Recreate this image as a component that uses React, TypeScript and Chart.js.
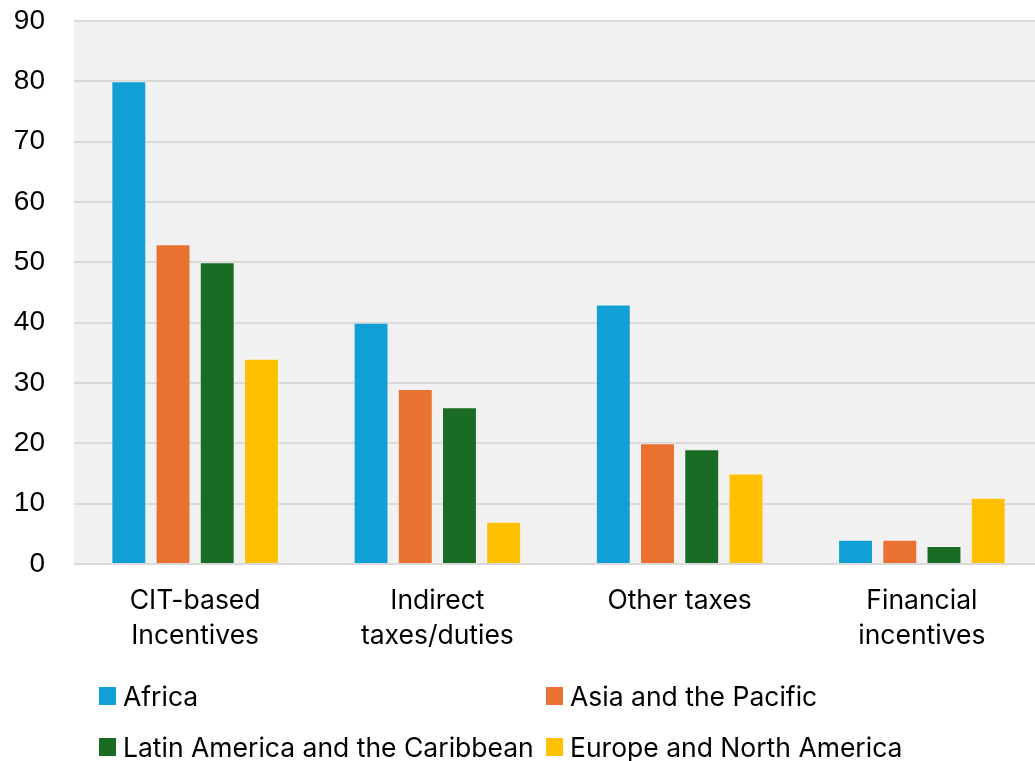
import React, { useEffect, useRef } from "react";
import { Chart, registerables } from "chart.js";

Chart.register(...registerables);

const categories: string[][] = [
  ["CIT-based", "Incentives"],
  ["Indirect", "taxes/duties"],
  ["Other taxes"],
  ["Financial", "incentives"],
];
const seriesNames = [
  "Africa",
  "Asia and the Pacific",
  "Latin America and the Caribbean",
  "Europe and North America",
];
const africa = [80, 40, 43, 4];
const asiaPacific = [53, 29, 20, 4];
const latinAmerica = [50, 26, 19, 3];
const europeNA = [34, 7, 15, 11];
const seriesColors = ["#129fd6", "#e97132", "#1a6b24", "#ffc000"];
const yTicks = { min: 0, max: 90, step: 10 };

const FONT = "Inter, 'Noto Sans', sans-serif";

const plotBg = {
  id: "plotBg",
  beforeDraw(chart: any) {
    const { ctx, chartArea } = chart;
    ctx.save();
    ctx.fillStyle = "#f1f1f1";
    ctx.fillRect(chartArea.left, chartArea.top, chartArea.right - chartArea.left, chartArea.bottom - chartArea.top);
    ctx.restore();
  },
};

const gridLegend = {
  id: "gridLegend",
  afterDraw(chart: any) {
    const { ctx } = chart;
    const cols = [99, 546];
    const rows = [706, 757];
    ctx.save();
    ctx.font = `26.5px ${FONT}`;
    ctx.textBaseline = "alphabetic";
    ctx.textAlign = "left";
    chart.data.datasets.forEach((ds: any, i: number) => {
      const x = cols[i % 2];
      const y = rows[Math.floor(i / 2)];
      ctx.fillStyle = ds.backgroundColor;
      ctx.fillRect(x, y - 19, 17, 18);
      ctx.fillStyle = "#000";
      ctx.fillText(ds.label, x + 24, y);
    });
    ctx.restore();
  },
};

export default function App() {
  const ref = useRef<HTMLCanvasElement>(null);
  useEffect(() => {
    document.body.style.margin = "0";
    const seriesData = [africa, asiaPacific, latinAmerica, europeNA];
    const chart = new Chart(ref.current!, {
      type: "bar",
      data: {
        labels: categories,
        datasets: seriesData.map((d, i) => ({
          label: seriesNames[i],
          data: d,
          backgroundColor: seriesColors[i],
          borderColor: "rgba(255,255,255,0.35)",
          borderWidth: 1,
          categoryPercentage: 0.73,
          barPercentage: 0.79,
        })),
      },
      options: {
        animation: false,
        responsive: false,
        maintainAspectRatio: false,
        layout: { padding: { top: 21, left: 0, right: 0, bottom: 0 } },
        plugins: { legend: { display: false }, tooltip: { enabled: false } },
        scales: {
          x: {
            grid: { display: false, drawTicks: false },
            border: { display: false },
            ticks: {
              padding: 20,
              color: "#000",
              font: { family: FONT, size: 26.5, lineHeight: 1.32 },
              maxRotation: 0,
              autoSkip: false,
            },
            afterFit(scale: any) {
              scale.height = 197;
            },
          },
          y: {
            min: yTicks.min,
            max: yTicks.max,
            grid: {
              color: "#d9d9d9",
              lineWidth: 2,
              drawTicks: true,
              tickLength: 29,
              tickColor: "rgba(0,0,0,0)",
            },
            border: { display: false },
            ticks: {
              stepSize: yTicks.step,
              padding: 0,
              color: "#000",
              font: { family: "'Liberation Sans', Arial, sans-serif", size: 28 },
            },
            afterFit(scale: any) {
              scale.width = 74;
            },
          },
        },
      },
      plugins: [plotBg, gridLegend],
    });
    return () => chart.destroy();
  }, []);
  return (
    <div style={{ width: 1035, height: 761, position: "relative", overflow: "hidden" }}>
      <canvas ref={ref} width={1043} height={761} style={{ display: "block" }} />
    </div>
  );
}
